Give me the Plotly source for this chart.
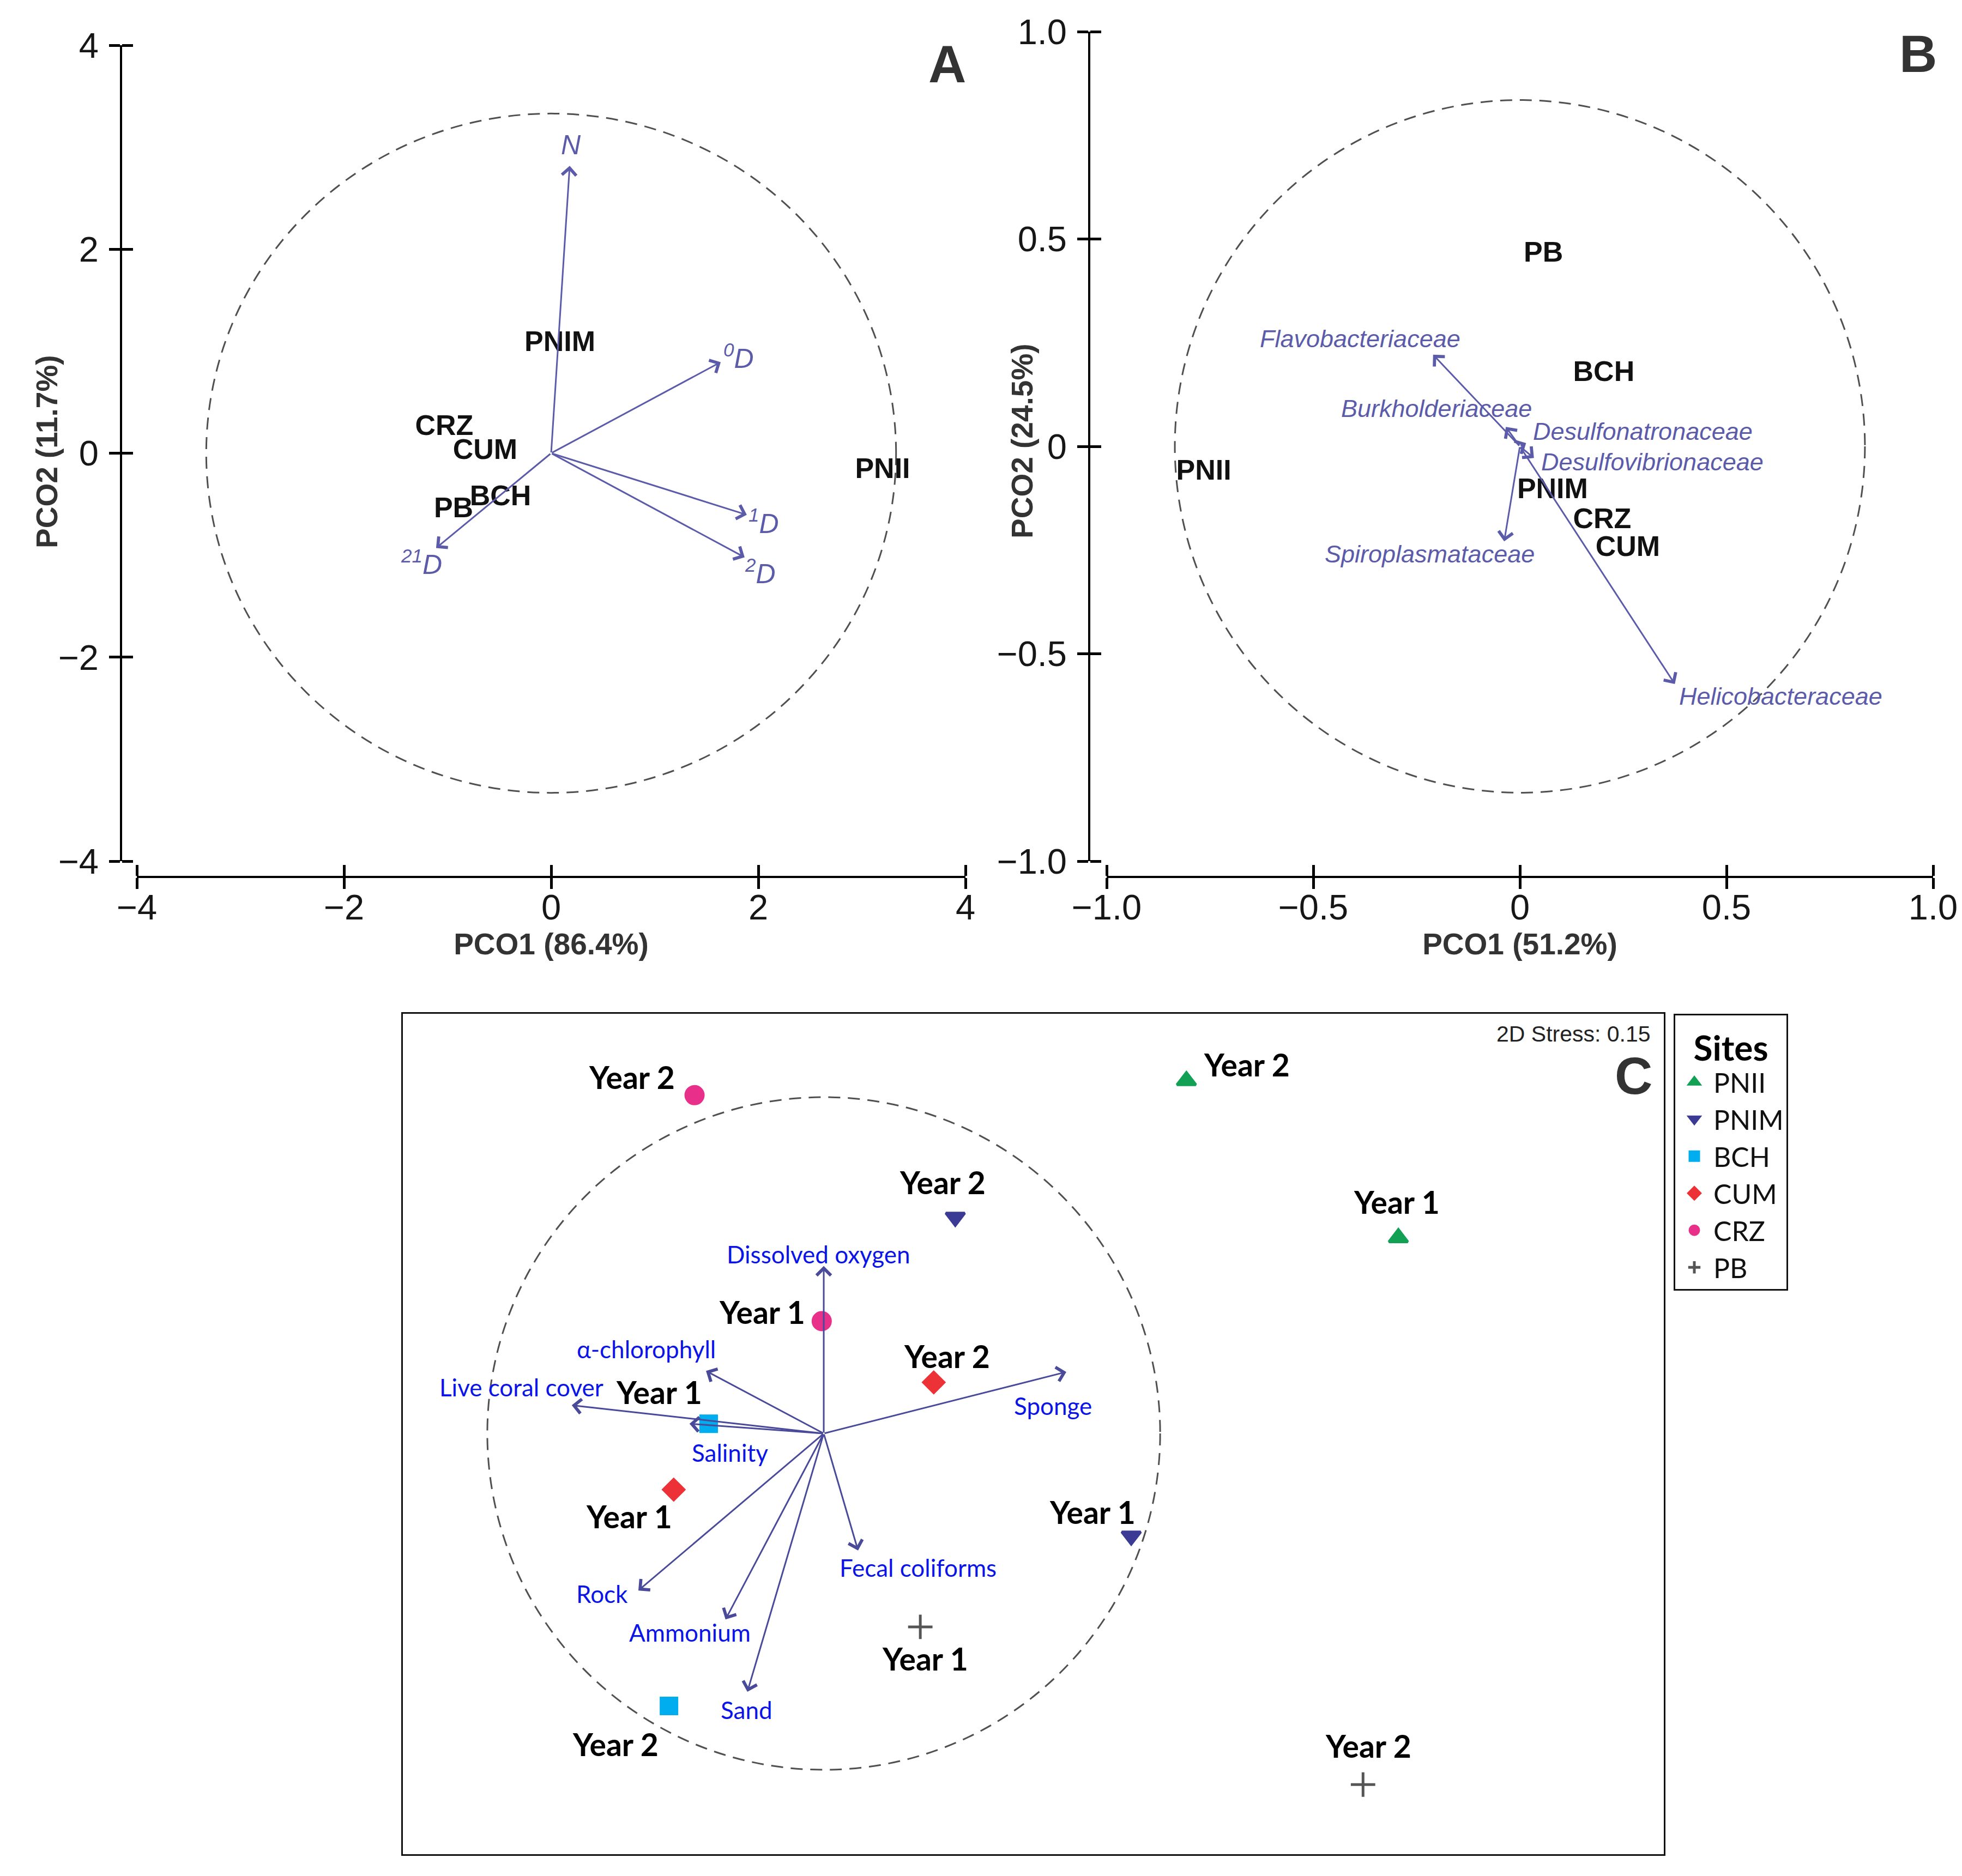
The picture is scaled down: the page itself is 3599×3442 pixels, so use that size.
import plotly.graph_objects as go

W, H = 3599, 3442
ARIAL = "Liberation Sans"
CAL = "Lato"

# ---------------- Panel A data ----------------
A_sites = ["PNIM", "CRZ", "CUM", "BCH", "PB", "PNII"]
A_x = [0.084, -1.032, -0.637, -0.489, -0.942, 3.20]
A_y = [1.070, 0.251, 0.011, -0.439, -0.561, -0.171]
A_vec_names = ["<i>N</i>", "<i><sup>0</sup>D</i>", "<i><sup>1</sup>D</i>",
               "<i><sup>2</sup>D</i>", "<i><sup>21</sup>D</i>"]
A_vec_x = [0.179, 1.637, 1.889, 1.868, -1.111]
A_vec_y = [2.818, 0.893, -0.604, -1.021, -0.930]
A_radius = 3.33
A_ticks = [-4, -2, 0, 2, 4]
A_ticktext = ["\u22124", "\u22122", "0", "2", "4"]

# ---------------- Panel B data ----------------
B_sites = ["PB", "BCH", "PNII", "PNIM", "CRZ", "CUM"]
B_x = [0.057, 0.203, -0.765, 0.079, 0.199, 0.261]
B_y = [0.463, 0.175, -0.063, -0.108, -0.180, -0.247]
B_vec_names = ["Flavobacteriaceae", "Burkholderiaceae", "Desulfonatronaceae",
               "Desulfovibrionaceae", "Spiroplasmataceae", "Helicobacteraceae"]
B_vec_x = [-0.210, -0.034, 0.015, 0.034, -0.038, 0.375]
B_vec_y = [0.221, 0.047, 0.008, -0.028, -0.229, -0.573]
B_radius = 0.835
B_ticks = [-1.0, -0.5, 0, 0.5, 1.0]
B_ticktext = ["\u22121.0", "\u22120.5", "0", "0.5", "1.0"]

# ---------------- Panel C data ----------------
C_sites = ["PNII", "PNIM", "BCH", "CUM", "CRZ", "PB"]
C_years = ["Year 1", "Year 2"]
C_x = {"PNII": [1.708, 1.078], "PNIM": [0.914, 0.391], "BCH": [-0.342, -0.460],
       "CUM": [-0.446, 0.327], "CRZ": [-0.006, -0.384], "PB": [0.287, 1.603]}
C_y = {"PNII": [0.582, 1.049], "PNIM": [-0.305, 0.643], "BCH": [0.029, -0.810],
       "CUM": [-0.167, 0.152], "CRZ": [0.334, 1.006], "PB": [-0.575, -1.044]}
C_vec_names = ["Dissolved oxygen", "\u03b1-chlorophyll", "Live coral cover", "Salinity",
               "Sponge", "Fecal coliforms", "Rock", "Ammonium", "Sand"]
C_vec_x = [0.0, -0.350, -0.749, -0.399, 0.721, 0.102, -0.551, -0.292, -0.227]
C_vec_y = [0.498, 0.186, 0.084, 0.029, 0.183, -0.348, -0.467, -0.553, -0.768]
C_radius = 1.0
C_stress = "2D Stress: 0.15"

# ---------------- styles (label offsets in pixels: right, up) ----------------
A_vec_off = [(2, 38), (33, 10), (31, -12), (29, -26), (-27, -26)]
B_vec_off = [(-134, 29), (-127, 34), (214, 21), (217, -7), (-137, -23), (194, -22)]
C_vec_off = [(-10, 22), (-110, 40), (-92, 33), (74, -53), (-24, -62),
             (110, -31), (-66, -6), (-65, -24), (-1, -33)]
C_year_off = {"PNII": [(-3, 66), (111, 30)], "PNIM": [(-71, 44), (-23, 64)],
              "BCH": [(-91, 58), (-98, -70)], "CUM": [(-82, -49), (24, 48)],
              "CRZ": [(-109, 17), (-115, 33)], "PB": [(9, -58), (10, 71)]}
C_style = {
    "PNII": dict(symbol="triangle-up", color="#12A055", size=30, lw=5),
    "PNIM": dict(symbol="triangle-down", color="#3B3B95", size=30, lw=5),
    "BCH": dict(symbol="square", color="#00AEEF", size=29, lw=5),
    "CUM": dict(symbol="diamond", color="#EC3237", size=29, lw=5),
    "CRZ": dict(symbol="circle", color="#E8308A", size=32, lw=5),
    "PB": dict(symbol="cross-thin", color="#555555", size=32, lw=5),
}
VEC_AB = "#5B5BAA"
VEC_C = "#4A4A9A"
LAB_C = "#0A14E6"


def px_x(p):
    return p / W


def px_y(p):
    return 1 - p / H


fig = go.Figure()

# Panel A / B site labels (the ordination positions themselves)
fig.add_trace(go.Scatter(x=A_x, y=A_y, mode="text", text=A_sites, xaxis="x", yaxis="y",
                         textfont=dict(family=ARIAL, size=52, color="#111111", weight="bold"),
                         showlegend=False, hoverinfo="skip"))
fig.add_trace(go.Scatter(x=B_x, y=B_y, mode="text", text=B_sites, xaxis="x2", yaxis="y2",
                         textfont=dict(family=ARIAL, size=52, color="#111111", weight="bold"),
                         showlegend=False, hoverinfo="skip"))
# Panel C sites
for s in C_sites:
    st = C_style[s]
    fig.add_trace(go.Scatter(x=C_x[s], y=C_y[s], mode="markers", name=s, xaxis="x3", yaxis="y3",
                             marker=dict(symbol=st["symbol"], color=st["color"], size=st["size"],
                                         line=dict(width=st["lw"], color=st["color"]))))

annotations = []

# arrows (tail at origin, head at the vector tip)
for xs, ys, xr, yr, col in [(A_vec_x, A_vec_y, "x", "y", VEC_AB),
                            (B_vec_x, B_vec_y, "x2", "y2", VEC_AB),
                            (C_vec_x, C_vec_y, "x3", "y3", VEC_C)]:
    for vx, vy in zip(xs, ys):
        annotations.append(dict(x=vx, y=vy, ax=0, ay=0, xref=xr, yref=yr, axref=xr, ayref=yr,
                                text="", showarrow=True, arrowhead=4, arrowsize=1.7,
                                arrowwidth=3, arrowcolor=col, standoff=0, startstandoff=0))


def add_labels(xs, ys, texts, offs, xr, yr, font):
    for vx, vy, t, (dx, dy) in zip(xs, ys, texts, offs):
        annotations.append(dict(x=vx, y=vy, xref=xr, yref=yr, text=t, showarrow=False,
                                xanchor="center", yanchor="middle", xshift=dx, yshift=dy,
                                font=font))


add_labels(A_vec_x, A_vec_y, A_vec_names, A_vec_off, "x", "y",
           dict(family=ARIAL, size=50, color=VEC_AB))
add_labels(B_vec_x, B_vec_y, B_vec_names, B_vec_off, "x2", "y2",
           dict(family=ARIAL, size=45, color=VEC_AB, style="italic"))
add_labels(C_vec_x, C_vec_y, C_vec_names, C_vec_off, "x3", "y3",
           dict(family=CAL, size=44, color=LAB_C))
for s in C_sites:
    add_labels(C_x[s], C_y[s], C_years, C_year_off[s], "x3", "y3",
               dict(family=CAL, size=57, color="#000000", weight="bold"))

# panel letters, y-axis titles and stress text
letter_font = dict(family=ARIAL, size=96, color="#333333", weight="bold")
titlefont = dict(family=ARIAL, size=55, color="#333333", weight="bold")
annotations += [
    dict(text="A", x=px_x(1737), y=px_y(118), xref="paper", yref="paper", showarrow=False,
         xanchor="center", yanchor="middle", font=letter_font),
    dict(text="B", x=px_x(3518), y=px_y(98), xref="paper", yref="paper", showarrow=False,
         xanchor="center", yanchor="middle", font=letter_font),
    dict(text="C", x=px_x(2996), y=px_y(1973), xref="paper", yref="paper", showarrow=False,
         xanchor="center", yanchor="middle", font=letter_font),
    dict(text=C_stress, x=px_x(3030), y=px_y(1897), xref="paper", yref="paper", showarrow=False,
         xanchor="right", yanchor="middle", font=dict(family=ARIAL, size=41, color="#222222")),
    dict(text="PCO2 (11.7%)", x=px_x(86), y=px_y(829), xref="paper", yref="paper",
         showarrow=False, textangle=-90, xanchor="center", yanchor="middle", font=titlefont),
    dict(text="PCO2 (24.5%)", x=px_x(1875), y=px_y(809), xref="paper", yref="paper",
         showarrow=False, textangle=-90, xanchor="center", yanchor="middle", font=titlefont),
]

shapes = []
for r, xr, yr in [(A_radius, "x", "y"), (B_radius, "x2", "y2"), (C_radius, "x3", "y3")]:
    shapes.append(dict(type="circle", xref=xr, yref=yr, x0=-r, x1=r, y0=-r, y1=r,
                       line=dict(color="#505050", width=3, dash="22px,14px"), layer="below"))

tickfont = dict(family=ARIAL, size=65, color="#161616")


def axis(ticks, ticktext, standoff, **kw):
    d = dict(showgrid=False, zeroline=False, showline=True, linecolor="black", linewidth=4,
             ticks="outside", ticklen=20, tickwidth=5, tickcolor="black",
             tickfont=tickfont, tickmode="array", tickvals=ticks, ticktext=ticktext,
             ticklabelstandoff=standoff,
             anchor="free", fixedrange=True, automargin=False,
             minor=dict(ticks="inside", ticklen=20, tickwidth=5, tickcolor="black",
                        tickmode="array", tickvals=[t + 1e-7 for t in ticks], showgrid=False))
    d.update(kw)
    return d


xA_pos = px_y(1609)
yA_pos = px_x(222)
yB_pos = px_x(1998)

layout = dict(
    width=W, height=H, autosize=False, margin=dict(l=0, r=0, t=0, b=0, autoexpand=False),
    paper_bgcolor="white", plot_bgcolor="rgba(0,0,0,0)",
    xaxis=axis(A_ticks, A_ticktext, -22, domain=[px_x(251), px_x(1771)], range=[-4, 4],
               position=xA_pos, title=dict(text="PCO1 (86.4%)", font=titlefont, standoff=8)),
    yaxis=axis(A_ticks, A_ticktext, 6, domain=[px_y(1580), px_y(83)], range=[-4, 4],
               position=yA_pos),
    xaxis2=axis(B_ticks, B_ticktext, -22, domain=[px_x(2030), px_x(3546)], range=[-1, 1],
                position=xA_pos, title=dict(text="PCO1 (51.2%)", font=titlefont, standoff=8)),
    yaxis2=axis(B_ticks, B_ticktext, 6, domain=[px_y(1580), px_y(58)], range=[-1, 1],
                position=yB_pos),
    xaxis3=dict(domain=[px_x(739), px_x(3052)], range=[-1.251, 2.497], anchor="y3",
                showgrid=False, zeroline=False, showticklabels=False, ticks="", automargin=False,
                showline=True, mirror=True, linecolor="#111111", linewidth=3, fixedrange=True),
    yaxis3=dict(domain=[px_y(3402), px_y(1860)], range=[-1.251, 1.248], anchor="x3",
                showgrid=False, zeroline=False, showticklabels=False, ticks="", automargin=False,
                showline=True, mirror=True, linecolor="#111111", linewidth=3, fixedrange=True),
    legend=dict(x=px_x(3070), y=px_y(1860), xanchor="left", yanchor="top",
                bordercolor="#111111", borderwidth=3, bgcolor="white",
                font=dict(family=CAL, size=50, color="#111111"),
                title=dict(text="Sites", side="top center",
                           font=dict(family=CAL, size=64, color="#000000", weight="bold")),
                itemsizing="trace", itemwidth=60, tracegroupgap=0),
    annotations=annotations,
    shapes=shapes,
    showlegend=True,
)
fig.update_layout(layout)
fig.write_html("out.html", post_script="document.body.style.margin='0px';",
               config={"displayModeBar": False})
